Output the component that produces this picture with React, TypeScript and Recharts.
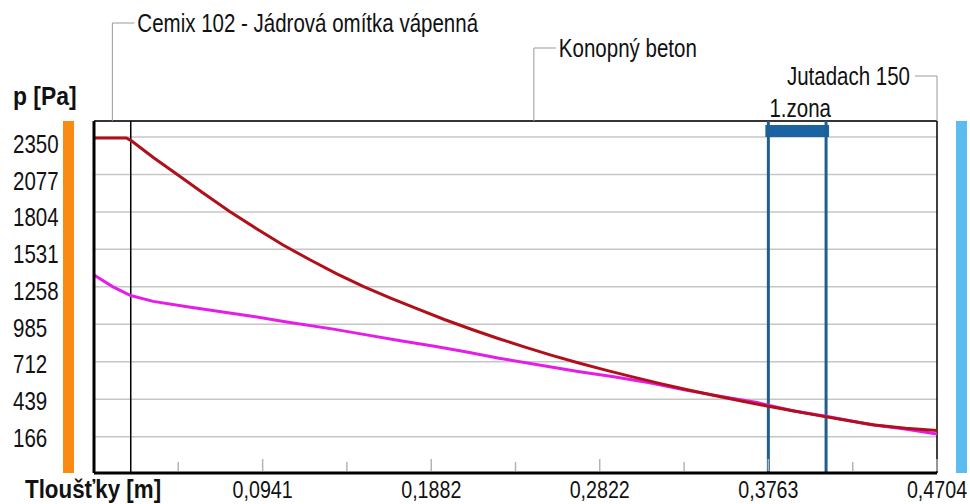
import React from 'react';
import { LineChart, Line, XAxis, YAxis, CartesianGrid, ReferenceLine, ReferenceArea } from 'recharts';

// ---- data ----
const RED_X = [0, 0.018, 0.0205, 0.0331, 0.0455, 0.0605, 0.0755, 0.0905, 0.1055, 0.1205, 0.1355, 0.1505, 0.1655, 0.1805, 0.1955, 0.2105, 0.2255, 0.2405, 0.2555, 0.2705, 0.2855, 0.3005, 0.3155, 0.3305, 0.3455, 0.3605, 0.3755, 0.3905, 0.4055, 0.4205, 0.4355, 0.4529, 0.4704];
const RED_P = [2342, 2342, 2325, 2200, 2085, 1945, 1809, 1683, 1563, 1455, 1353, 1260, 1176, 1097, 1020, 949, 882, 819, 759, 703, 651, 602, 555, 510, 468, 428, 390, 353, 318, 284, 252, 228, 212];
const MAG_X = [0, 0.0106, 0.0205, 0.033, 0.052, 0.07, 0.089, 0.1075, 0.1336, 0.152, 0.171, 0.19, 0.208, 0.226, 0.2526, 0.27, 0.29, 0.31, 0.33, 0.35, 0.37, 0.39, 0.41, 0.433, 0.4516, 0.4704];
const MAG_P = [1345, 1258, 1195, 1152, 1113, 1078, 1042, 1002, 950, 908, 866, 826, 783, 738, 680, 642, 603, 560, 507, 460, 415, 355, 312, 256, 225, 186];

const Y_TICKS = [166, 439, 712, 985, 1258, 1531, 1804, 2077, 2350];
const X_TICKS_MAJOR = [0.0941, 0.1882, 0.2822, 0.3763, 0.4704];
const X_TICK_LABELS = ['0,0941', '0,1882', '0,2822', '0,3763', '0,4704'];
const X_TICKS_MINOR = [0.047, 0.1411, 0.2352, 0.3293, 0.4234];

const LAYER_NAMES = ['Cemix 102 - Jádrová omítka vápenná', 'Konopný beton', 'Jutadach 150'];
const LAYER_START = [0, 0.0205, 0.4704];
const LAYER_END = [0.0205, 0.4704, 0.4704];

const ZONE_NAME = '1.zona';
const ZONE_START = 0.3763;
const ZONE_END = 0.4085;

const X_DOMAIN: [number, number] = [0, 0.4704];
const Y_DOMAIN: [number, number] = [-98, 2466];

const Y_TITLE = 'p [Pa]';
const X_TITLE = 'Tloušťky [m]';

// ---- derived tables ----
const RED = RED_X.map((x, i) => ({ x, p: RED_P[i] }));
const MAG = MAG_X.map((x, i) => ({ x, p: MAG_P[i] }));
const ALL_X_TICKS = [...X_TICKS_MINOR, ...X_TICKS_MAJOR].sort((a, b) => a - b);

// ---- styles ----
const FONT = '"Liberation Sans", Arial, sans-serif';
const FS = 25;
const LEADER_COLOR = '#9a9a9a';
const ZONE_COLOR = '#1f5f8e';
const LEADER_STYLE = [
  { rise: 98, side: 'right' },
  { rise: 73, side: 'right' },
  { rise: 45, side: 'left' },
];

const NText = ({ x, y, anchor = 'start', size = FS, bold = false, sx = 0.82, children }: any) => (
  <text
    transform={`translate(${x},${y}) scale(${sx},1)`}
    x={0}
    y={0}
    textAnchor={anchor}
    fontFamily={FONT}
    fontSize={size}
    fontWeight={bold ? 'bold' : 'normal'}
    fill="#111"
  >
    {children}
  </text>
);

const XTick = (props: any) => {
  const { x, y, payload } = props;
  const idx = X_TICKS_MAJOR.indexOf(payload.value);
  const major = idx >= 0;
  return (
    <g>
      <line x1={x} x2={x} y1={y - 2} y2={y - (major ? 14 : 11)} stroke="#b4b4b4" strokeWidth={1.5} />
      {major && (
        <NText x={x} y={y + 25} anchor="middle" size={24}>
          {X_TICK_LABELS[idx]}
        </NText>
      )}
    </g>
  );
};

const YTick = (props: any) => {
  const { x, y, payload } = props;
  const drift = 1 + (6 * (payload.value - Y_TICKS[0])) / (Y_TICKS[Y_TICKS.length - 1] - Y_TICKS[0]);
  return (
    <NText x={x - 81} y={y + drift + 9}>
      {payload.value}
    </NText>
  );
};

const YLabel = (props: any) => {
  const vb = props.viewBox || {};
  return (
    <g>
      <NText x={vb.x + 13} y={vb.y - 16} size={26} bold sx={0.88}>
        {Y_TITLE}
      </NText>
      <rect x={vb.x + vb.width - 31} y={vb.y} width={11} height={vb.height} fill="#f98a12" />
    </g>
  );
};

const XLabel = (props: any) => {
  const vb = props.viewBox || {};
  return (
    <NText x={vb.x - 69} y={vb.y + 25} size={26} bold sx={0.86}>
      {X_TITLE}
    </NText>
  );
};

const makeLeader = (i: number) => (props: any) => {
  const vb = props.viewBox || {};
  const x = vb.x;
  const top = vb.y;
  const { rise, side } = LEADER_STYLE[i];
  const y = top - rise;
  const right = side === 'right';
  const hx = right ? x + 22 : x - 22;
  return (
    <g>
      <line x1={x} x2={x} y1={top} y2={y} stroke={LEADER_COLOR} strokeWidth={1} />
      <line x1={x} x2={hx} y1={y} y2={y} stroke={LEADER_COLOR} strokeWidth={1} />
      <NText x={right ? hx + 3 : hx - 5} y={y + 9} anchor={right ? 'start' : 'end'}>
        {LAYER_NAMES[i]}
      </NText>
      {i === LAYER_NAMES.length - 1 && (
        <rect x={x + 19} y={top} width={11} height={vb.height} fill="#5cbcf0" />
      )}
    </g>
  );
};

const ZoneLabel = (props: any) => {
  const vb = props.viewBox || {};
  return (
    <g>
      <rect x={vb.x - 3} y={vb.y + 4} width={vb.width + 6} height={12} fill="#1a64a4" />
      <NText x={vb.x + vb.width / 2 + 3} y={vb.y - 4} anchor="middle">
        {ZONE_NAME}
      </NText>
    </g>
  );
};

export default function App() {
  return (
    <div style={{ position: 'absolute', left: 0, top: 0, width: 970, height: 504, background: '#fff' }}>
      <LineChart width={970} height={504} margin={{ top: 121, right: 33, bottom: 0, left: 0 }}>
        <CartesianGrid vertical={false} stroke="#c6c6c6" strokeWidth={1.5} />
        <XAxis
          type="number"
          dataKey="x"
          domain={X_DOMAIN}
          ticks={ALL_X_TICKS}
          interval={0}
          allowDataOverflow
          height={31}
          tickSize={0}
          tickMargin={0}
          tickLine={false}
          axisLine={{ stroke: '#000', strokeWidth: 3 }}
          tick={XTick}
          label={XLabel}
        />
        <YAxis
          type="number"
          domain={Y_DOMAIN}
          ticks={Y_TICKS}
          interval={0}
          allowDataOverflow
          width={94}
          tickSize={0}
          tickMargin={0}
          tickLine={false}
          axisLine={{ stroke: '#000', strokeWidth: 3 }}
          tick={YTick}
          label={YLabel}
        />
        <ReferenceLine y={Y_DOMAIN[1]} stroke="#000" strokeWidth={1.5} />
        <ReferenceLine x={X_DOMAIN[1]} stroke="#000" strokeWidth={1.5} />
        <ReferenceLine x={LAYER_END[0]} stroke="#000" strokeWidth={1.5} />
        {LAYER_NAMES.map((name, i) => (
          <ReferenceLine
            key={name}
            x={(LAYER_START[i] + LAYER_END[i]) / 2}
            stroke="none"
            label={makeLeader(i)}
          />
        ))}
        <ReferenceArea x1={ZONE_START} x2={ZONE_END} fill="none" stroke="none" label={ZoneLabel} />
        <ReferenceLine x={ZONE_START} stroke={ZONE_COLOR} strokeWidth={3} />
        <ReferenceLine x={ZONE_END} stroke={ZONE_COLOR} strokeWidth={3} />
        <Line data={MAG} dataKey="p" type="linear" stroke="#e41ee6" strokeWidth={3} dot={false} activeDot={false} isAnimationActive={false} />
        <Line data={RED} dataKey="p" type="linear" stroke="#b0101a" strokeWidth={3} dot={false} activeDot={false} isAnimationActive={false} />
      </LineChart>
    </div>
  );
}
